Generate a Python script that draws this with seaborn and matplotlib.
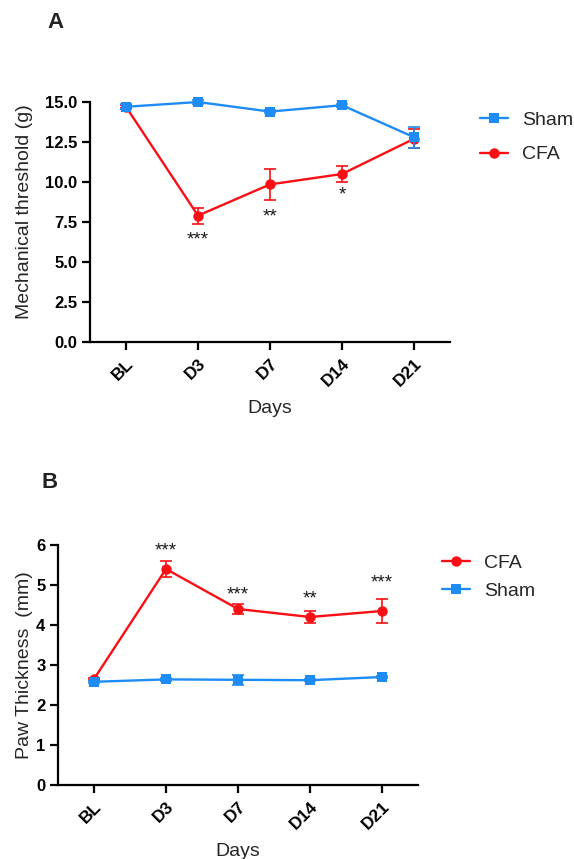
import numpy as np
import pandas as pd
import matplotlib
matplotlib.use("Agg")
import matplotlib.pyplot as plt
import seaborn as sns

# data
days = ["BL", "D3", "D7", "D14", "D21"]

# panel A: mechanical threshold (g)
sham_thresh = [14.7, 15.0, 14.4, 14.8, 12.8]
sham_thresh_err = [0.15, 0.1, 0.1, 0.1, 0.65]
cfa_thresh = [14.7, 7.9, 9.85, 10.5, 12.7]
cfa_thresh_err = [0.1, 0.5, 0.95, 0.5, 0.6]
thresh_stars = ["", "***", "**", "*", ""]
thresh_star_y = [0, 6.4, 7.8, 9.2, 0]

# panel B: paw thickness (mm)
cfa_paw = [2.65, 5.4, 4.4, 4.2, 4.35]
cfa_paw_err = [0.03, 0.21, 0.13, 0.15, 0.31]
sham_paw = [2.58, 2.64, 2.63, 2.62, 2.70]
sham_paw_err = [0.03, 0.03, 0.12, 0.03, 0.03]
paw_stars = ["", "***", "***", "**", "***"]
paw_star_y = [0, 5.85, 4.75, 4.65, 5.05]

BLUE = "#1e8cf5"
RED = "#fa0f14"

sns.set_style("ticks")
plt.rcParams["font.family"] = ["Liberation Sans", "DejaVu Sans"]

fig = plt.figure(figsize=(5.74, 8.59), dpi=100)
ax1 = fig.add_axes([90 / 574, 1 - 342 / 859, 360 / 574, 240 / 859])
ax2 = fig.add_axes([58 / 574, 1 - 785 / 859, 360 / 574, 240 / 859])

style = {"CFA": dict(color=RED, marker="o"), "Sham": dict(color=BLUE, marker="s")}


def draw_panel(ax, series, stars, star_y, ylim, yticks, yfmt, ylabel, order,
               ylab_xy, leg_xy, leg_spacing):
    rows = []
    for name, (vals, errs) in series.items():
        for d, v, e in zip(days, vals, errs):
            rows.append({"Day": d, "Value": v, "Err": e, "Group": name})
    df = pd.DataFrame(rows)
    # CFA first, Sham on top
    for name in ["CFA", "Sham"]:
        sub = df[df["Group"] == name]
        st = style[name]
        sns.lineplot(data=sub, x="Day", y="Value", ax=ax, color=st["color"],
                     marker=st["marker"], markersize=7.5, markeredgewidth=0,
                     linewidth=1.7, label=name, clip_on=False, zorder=3)
        ax.errorbar(sub["Day"], sub["Value"], yerr=sub["Err"], fmt="none",
                    ecolor=st["color"], elinewidth=1.2, capsize=4.5,
                    capthick=1.2, clip_on=False, zorder=3)
    for d, s, y in zip(days, stars, star_y):
        if s:
            ax.text(d, y, s, ha="center", va="center", fontsize=13.5, color="#1a1a1a")
    ax.set_xlim(-0.5, 4.5)
    ax.set_ylim(*ylim)
    ax.set_yticks(yticks)
    ax.set_yticklabels([yfmt.format(t) for t in yticks], fontweight="bold", fontsize=12)
    ax.set_xticks(range(len(days)))
    ax.set_xticklabels(days, rotation=45, ha="right", rotation_mode="anchor",
                       fontweight="bold", fontsize=12.5)
    ax.set_xlabel("Days", fontsize=14, labelpad=8)
    ax.set_ylabel(ylabel, fontsize=14)
    ax.yaxis.set_label_coords(*ylab_xy)
    sns.despine(ax=ax)
    for sp in ["left", "bottom"]:
        ax.spines[sp].set_linewidth(1.6)
        ax.spines[sp].set_color("black")
    ax.tick_params(width=1.6, length=6, color="black", pad=3, labelcolor="black")
    ax.tick_params(axis="x", pad=4)
    handles, labels = ax.get_legend_handles_labels()
    hmap = dict(zip(labels, handles))
    ax.legend([hmap[k] for k in order], order, loc="upper left",
              bbox_to_anchor=leg_xy, frameon=False, fontsize=14,
              handlelength=1.45, handletextpad=0.7, labelspacing=leg_spacing,
              borderpad=0, borderaxespad=0)


draw_panel(ax1, {"Sham": (sham_thresh, sham_thresh_err), "CFA": (cfa_thresh, cfa_thresh_err)},
           thresh_stars, thresh_star_y, (0, 15), [0, 2.5, 5, 7.5, 10, 12.5, 15], "{:.1f}",
           "Mechanical threshold (g)", ["Sham", "CFA"], (-0.158, 0.545), (1.083, 0.962), 0.88)
draw_panel(ax2, {"CFA": (cfa_paw, cfa_paw_err), "Sham": (sham_paw, sham_paw_err)},
           paw_stars, paw_star_y, (0, 6), [0, 1, 2, 3, 4, 5, 6], "{:.0f}",
           "Paw Thickness  (mm)", ["CFA", "Sham"], (-0.069, 0.5), (1.067, 0.96), 0.5)

fig.text(55 / 574, 1 - 22 / 859, "A", fontsize=16, fontweight="bold",
         ha="center", va="center", color="#222222")
fig.text(50 / 574, 1 - 482 / 859, "B", fontsize=16, fontweight="bold",
         ha="center", va="center", color="#222222")

fig.savefig("out.png", dpi=100)
